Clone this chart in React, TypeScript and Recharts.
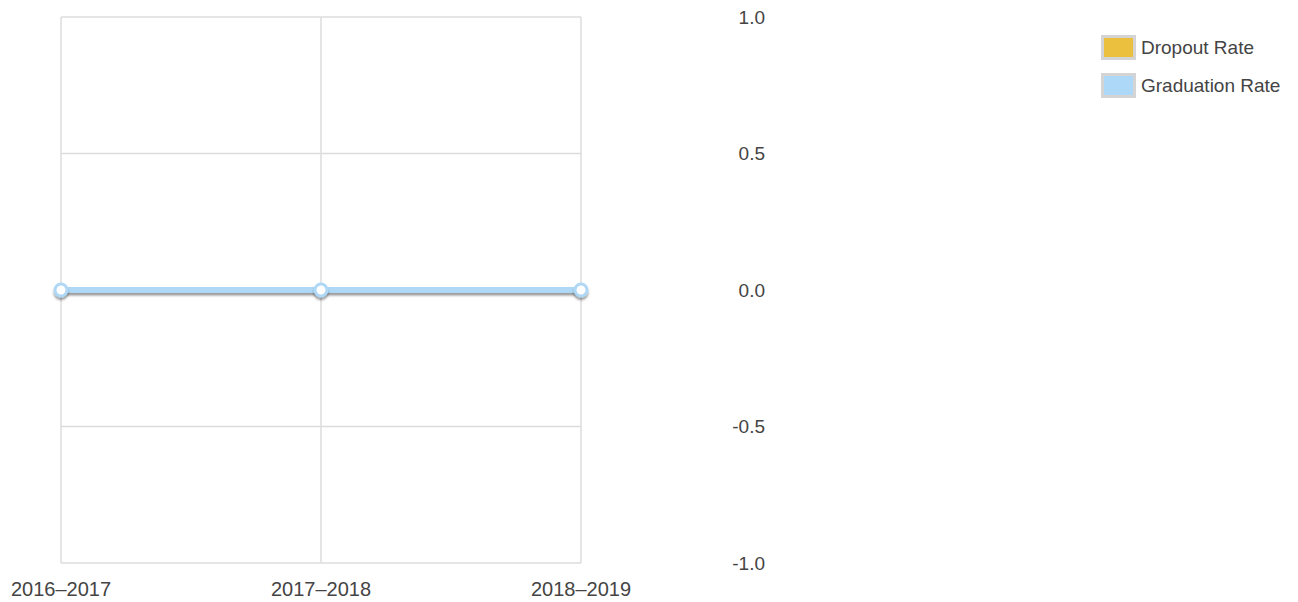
import { CartesianGrid, Line, LineChart, XAxis, YAxis } from "recharts";

const years = ["2016–2017", "2017–2018", "2018–2019"];
const dropoutRate = [0, 0, 0];
const graduationRate = [0, 0, 0];
const yTicks = [-1, -0.5, 0, 0.5, 1];

const data = years.map((year, i) => ({
  year,
  dropout: dropoutRate[i],
  graduation: graduationRate[i],
}));

const FONT = "'Liberation Sans', Arial, sans-serif";
const TEXT = "#444";

const legendItems = [
  { name: "Dropout Rate", color: "#ebc03f" },
  { name: "Graduation Rate", color: "#aed8f7" },
];

function RightTick({ y, payload }: any) {
  return (
    <text x={757} y={y} dy="0.355em" textAnchor="end" fill={TEXT} fontSize={19} fontFamily={FONT}>
      {Number(payload.value).toFixed(1)}
    </text>
  );
}

export default function App() {
  return (
    <div style={{ position: "relative", width: 1282, height: 594, fontFamily: FONT }}>
      <LineChart
        width={1282}
        height={594}
        data={data}
        margin={{ top: 9, right: 0, bottom: 0, left: 53 }}
        style={{ overflow: "visible" }}
      >
        <defs>
          <filter id="lineShadow" filterUnits="userSpaceOnUse" x="0" y="0" width="1282" height="594">
            <feDropShadow dx="0" dy="2.5" stdDeviation="1.2" floodColor="#000" floodOpacity="0.4" />
          </filter>
        </defs>
        <CartesianGrid stroke="#dcdcdc" strokeWidth={1.5} />
        <XAxis
          dataKey="year"
          axisLine={false}
          tickLine={false}
          tickMargin={13}
          height={39}
          interval={0}
          tick={{ fill: TEXT, fontSize: 20, fontFamily: FONT }}
        />
        <YAxis
          orientation="right"
          width={709}
          domain={[-1, 1]}
          ticks={yTicks}
          axisLine={false}
          tickLine={false}
          tick={<RightTick />}
        />
        <Line
          dataKey="dropout"
          stroke="#ebc03f"
          strokeWidth={6}
          dot={false}
          isAnimationActive={false}
        />
        <Line
          dataKey="graduation"
          stroke="#aed8f5"
          strokeWidth={6}
          filter="url(#lineShadow)"
          dot={{ r: 6, fill: "#fff", stroke: "#aed8f5", strokeWidth: 3 }}
          isAnimationActive={false}
        />
      </LineChart>
      <div style={{ position: "absolute", left: 1093, top: 27 }}>
        {legendItems.map((item) => (
          <div key={item.name} style={{ display: "flex", alignItems: "center", height: 25, marginBottom: 13 }}>
            <div
              style={{
                boxSizing: "border-box",
                width: 35,
                height: 25,
                background: item.color,
                border: "3px solid #d4d4d4",
                marginRight: 5,
              }}
            />
            <span style={{ fontSize: 19, color: TEXT, lineHeight: "25px" }}>{item.name}</span>
          </div>
        ))}
      </div>
    </div>
  );
}
